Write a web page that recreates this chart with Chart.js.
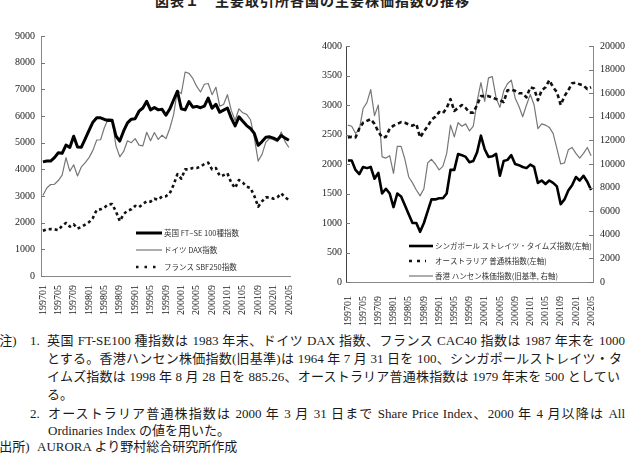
<!DOCTYPE html>
<html lang="ja">
<head>
<meta charset="UTF-8">
<title>図表1</title>
<script src="https://cdn.jsdelivr.net/npm/chart.js"></script>
<style>
    body { margin: 0; width: 625px; height: 455px; overflow: hidden; background: #fff; position: relative;
           font-family: "Liberation Serif", "Noto Sans CJK JP", serif; color: #1a1a1a; }
    .title { position: absolute; top: -10px; left: 0; width: 625px; text-align: center; line-height: 16px;
             font: bold 14px "Noto Sans CJK JP"; letter-spacing: 1px; color: #222; }
    #left { position: absolute; left: 0; top: 20px; }
    #right { position: absolute; left: 305px; top: 25px; }
    .note { position: absolute; font-size: 13px; line-height: 18px; white-space: nowrap; }
    .just { text-align: justify; text-align-last: justify; white-space: normal; height: 18px; overflow: hidden; }
</style>
</head>
<body>
<div class="title">図表１　主要取引所各国の主要株価指数の推移</div>
<canvas id="left" width="310" height="310"></canvas>
<canvas id="right" width="320" height="305"></canvas>

<div class="note" style="left:-5px; top:332px">(注)</div>
<div class="note" style="left:30px; top:332px">1.</div>
<div class="note just" style="left:47px; top:332px; width:578px">英国 FT-SE100 種指数は 1983 年末、ドイツ DAX 指数、フランス CAC40 指数は 1987 年末を 1000</div>
<div class="note just" style="left:47px; top:350px; width:575px">とする。香港ハンセン株価指数(旧基準)は 1964 年 7 月 31 日を 100、シンガポールストレイツ・タ</div>
<div class="note just" style="left:47px; top:368px; width:573px">イムズ指数は 1998 年 8 月 28 日を 885.26、オーストラリア普通株指数は 1979 年末を 500 としてい</div>
<div class="note" style="left:47px; top:386px">る。</div>
<div class="note" style="left:30px; top:405px">2.</div>
<div class="note just" style="left:48px; top:405px; width:577px">オーストラリア普通株指数は 2000 年 3 月 31 日まで Share Price Index、2000 年 4 月以降は All</div>
<div class="note" style="left:48px; top:422px">Ordinaries Index の値を用いた。</div>
<div class="note" style="left:-5px; top:438px">(出所)</div>
<div class="note" style="left:37px; top:438px">AURORA より野村総合研究所作成</div>

<script>
    const months = [
        '199701','199702','199703','199704','199705','199706','199707','199708','199709','199710','199711','199712',
        '199801','199802','199803','199804','199805','199806','199807','199808','199809','199810','199811','199812',
        '199901','199902','199903','199904','199905','199906','199907','199908','199909','199910','199911','199912',
        '200001','200002','200003','200004','200005','200006','200007','200008','200009','200010','200011','200012',
        '200101','200102','200103','200104','200105','200106','200107','200108','200109','200110','200111','200112',
        '200201','200202','200203','200204','200205'
    ]

    // left chart
    const ftse = [
        4280,4310,4310,4440,4620,4600,4910,4820,5240,4840,4830,5140,
        5460,5770,5930,5930,5870,5830,5840,5250,5060,5440,5740,5880,
        5900,6180,6300,6550,6230,6320,6230,6250,6030,6260,6600,6930,
        6270,6230,6540,6330,6360,6310,6370,6670,6290,6440,6140,6220,
        6300,5920,5630,5970,5800,5640,5530,5350,4900,5040,5200,5220,
        5170,5100,5270,5170,5090
    ]
    const dax = [
        3020,3300,3430,3440,3580,3780,4440,3930,4170,3750,4090,4250,
        4440,4710,5100,5110,5570,5900,5870,4880,4470,4670,5070,5000,
        5150,4910,4880,5390,5070,5380,5120,5280,5150,5530,6050,6960,
        6840,7650,7600,7410,7110,6900,7190,7220,6800,7080,6370,6430,
        6800,6210,5830,6270,6120,6060,5860,5190,4310,4560,5020,5160,
        5110,5040,5400,5040,4820
    ]
    const sbf250 = [
        1700,1750,1760,1750,1720,1880,1990,1850,1940,1780,1840,1930,
        2020,2180,2480,2500,2570,2680,2700,2420,2060,2320,2450,2500,
        2630,2580,2700,2800,2790,2900,2860,2980,2990,3100,3420,3820,
        3650,4000,4000,4050,4050,4100,4200,4250,4000,4050,3750,3780,
        3850,3500,3300,3600,3500,3350,3300,3000,2600,2800,2950,2950,
        2900,2950,3100,2950,2850
    ]

    // right chart
    const straits = [
        2060,2060,1900,1830,1950,1930,1950,1750,1850,1500,1580,1500,
        1270,1500,1450,1300,1150,1000,1000,850,1000,1200,1400,1400,
        1420,1420,1500,1900,1900,2170,2150,2120,2030,2050,2200,2480,
        2250,2120,2130,2170,1800,2050,2070,2150,2000,1980,1950,1930,
        1990,1950,1680,1720,1660,1720,1680,1620,1320,1400,1550,1640,
        1780,1720,1800,1700,1560
    ]
    const allOrds = [
        2450,2460,2450,2600,2700,2730,2760,2680,2550,2450,2460,2600,
        2650,2680,2710,2700,2670,2650,2680,2450,2550,2640,2750,2800,
        2880,2860,2950,3100,2900,2950,3000,2950,2870,2870,3000,3150,
        3150,3150,3130,3100,3080,3050,3250,3260,3240,3200,3200,3130,
        3300,3280,3080,3250,3300,3420,3300,3220,3000,3150,3250,3370,
        3380,3350,3330,3270,3300
    ]
    const hangSeng = [
        13300,13200,12600,12900,14700,15200,16300,14100,15000,10600,10500,10700,
        9200,11500,11500,10400,8900,8400,7800,7300,7900,10100,10400,10000,
        9500,9800,10900,13300,12300,13500,13200,13400,12800,13200,15300,16900,
        15300,17300,17400,15600,14800,16200,16800,17100,15600,14900,14000,15000,
        15900,15000,13000,13400,13300,13100,12600,11300,10000,10100,11200,11400,
        10900,10500,10900,11400,10700
    ]

    const tickFont = { family: 'Liberation Serif', size: 10 }

    // small tick marks drawn inside the plot, like the original
    const innerTicks = {
        id: 'innerTicks',
        afterDraw(chart) {
            const ctx = chart.ctx
            const area = chart.chartArea
            ctx.save()
            ctx.strokeStyle = '#777'
            ctx.lineWidth = 1
            for (const s of Object.values(chart.scales)) {
                if (s.axis !== 'y') continue
                const x = s.position === 'left' ? area.left : area.right
                const dir = s.position === 'left' ? 1 : -1
                s.ticks.forEach((t, i) => {
                    const y = Math.round(s.getPixelForTick(i)) + 0.5
                    ctx.beginPath()
                    ctx.moveTo(x, y)
                    ctx.lineTo(x + dir * 4, y)
                    ctx.stroke()
                })
            }
            ctx.restore()
        }
    }

    function makeKey(rows) {
        return {
            id: 'key',
            afterDraw(chart) {
                const ctx = chart.ctx
                ctx.save()
                ctx.font = '7.5px "Noto Sans CJK JP"'
                ctx.textBaseline = 'middle'
                for (const r of rows) {
                    const ds = chart.data.datasets[r.ds]
                    ctx.strokeStyle = ds.borderColor
                    ctx.lineWidth = ds.borderWidth
                    ctx.setLineDash(r.dash || [])
                    ctx.beginPath()
                    ctx.moveTo(r.x1, r.y)
                    ctx.lineTo(r.x2, r.y)
                    ctx.stroke()
                    ctx.setLineDash([])
                    ctx.fillStyle = '#333'
                    ctx.fillText(ds.label, r.tx, r.y)
                }
                ctx.restore()
            }
        }
    }

    function xScale(pad, h) {
        return {
            type: 'category',
            offset: true,
            grid: { display: false, drawTicks: false },
            border: { color: '#888' },
            ticks: {
                autoSkip: false, minRotation: 90, maxRotation: 90, padding: pad,
                color: '#222', font: tickFont,
                callback: (v, i) => i % 4 === 0 ? months[i] : null
            },
            afterFit: s => { s.height = h }
        }
    }

    function yScale(pos, max, step, pad, w, color) {
        return {
            position: pos, min: 0, max: max,
            grid: { display: false, drawTicks: false },
            border: { color: color },
            ticks: { stepSize: step, padding: pad, color: '#222', font: tickFont, callback: v => String(v) },
            afterFit: s => { s.width = w }
        }
    }

    const line = (label, data, color, width, dash, axis) => ({
        label: label, data: data, borderColor: color, borderWidth: width,
        borderDash: dash, pointRadius: 0, tension: 0, fill: false,
        borderJoinStyle: 'round', yAxisID: axis
    })

    new Chart(document.getElementById('left'), {
        type: 'line',
        data: {
            labels: months,
            datasets: [
                line('英国 FT−SE 100種指数', ftse, '#000', 3, [], 'y'),
                line('ドイツ DAX指数', dax, '#777', 1.2, [], 'y'),
                line('フランス SBF250指数', sbf250, '#111', 2.6, [3, 3], 'y')
            ]
        },
        options: {
            responsive: false, animation: false,
            layout: { padding: { top: 16, right: 11, left: 0, bottom: 0 } },
            plugins: { legend: { display: false }, tooltip: { enabled: false } },
            scales: {
                x: xScale(9, 54),
                y: yScale('left', 9000, 1000, 6, 41, '#888')
            }
        },
        plugins: [innerTicks, makeKey([
            { ds: 0, x1: 136, x2: 162, tx: 164, y: 213 },
            { ds: 1, x1: 136, x2: 162, tx: 164, y: 230 },
            { ds: 2, x1: 136, x2: 157, tx: 164, y: 247, dash: [2.5, 6] }
        ])]
    })

    new Chart(document.getElementById('right'), {
        type: 'line',
        data: {
            labels: months,
            datasets: [
                line('シンガポール ストレイツ・タイムズ指数(左軸)', straits, '#000', 2.6, [], 'yL'),
                line('オーストラリア 普通株指数(左軸)', allOrds, '#111', 2.6, [4, 3], 'yL'),
                line('香港 ハンセン株価指数(旧基準, 右軸)', hangSeng, '#777', 1.2, [], 'yR')
            ]
        },
        options: {
            responsive: false, animation: false,
            layout: { padding: { top: 21, right: 0, left: 0, bottom: 0 } },
            plugins: { legend: { display: false }, tooltip: { enabled: false } },
            scales: {
                x: xScale(14, 48),
                yL: yScale('left', 4000, 500, 4, 41, '#444'),
                yR: yScale('right', 20000, 2000, 7, 32, '#888')
            }
        },
        plugins: [innerTicks, makeKey([
            { ds: 0, x1: 104, x2: 128, tx: 130, y: 221 },
            { ds: 1, x1: 104, x2: 121, tx: 130, y: 236, dash: [3, 5] },
            { ds: 2, x1: 104, x2: 128, tx: 130, y: 251 }
        ])]
    })
</script>
</body>
</html>
